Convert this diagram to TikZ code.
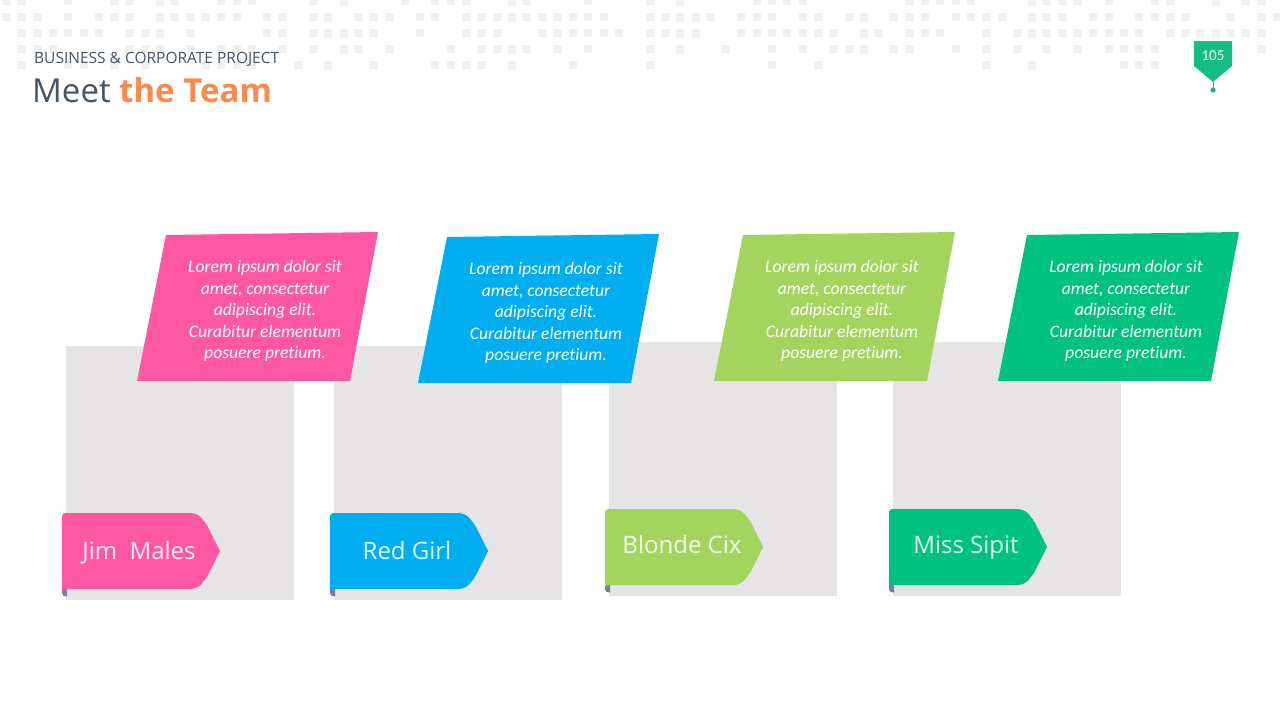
\documentclass[tikz,border=0pt]{standalone}
\usepackage{fontspec}
\setmainfont[Ligatures=NoCommon]{Carlito}
\newfontfamily\namefont{Open Sans}
\newfontfamily\headfont{Open Sans}
\definecolor{dotc}{HTML}{F0F0F0}
\definecolor{boxc}{HTML}{E6E4E5}
\definecolor{curlc}{HTML}{7F7E99}
\definecolor{pinkc}{HTML}{FE58A3}
\definecolor{bluec}{HTML}{00AEEF}
\definecolor{limec}{HTML}{A2D45E}
\definecolor{tealc}{HTML}{00C280}
\definecolor{badgec}{HTML}{14BE83}
\definecolor{headc}{HTML}{44546A}
\definecolor{orangec}{HTML}{FB8A4E}
\tikzset{
  graybox/.style={fill=boxc, draw=none, inner sep=0, anchor=north west, minimum width=228, minimum height=254},
  lorem/.style={text=white, align=center, inner sep=0, font=\fontsize{17.6}{21.5}\selectfont\itshape},
  tagname/.style={inner sep=0, anchor=base, font=\namefont\fontsize{24}{28}\selectfont},
}
\newcommand\teamtag[6]{% L, T, colour, node name, text, baseline offset
  \begin{scope}[shift={(#1,#2)}]
    \fill[curlc] (0,70) -- (0,80) .. controls (0,83) and (2,83.5) .. (5,83.5) -- (5,70) -- cycle;
    \fill[#3] (0,5) .. controls (0,1) and (1,0) .. (6,0) -- (128,0)
      .. controls (138,0) and (142,8) .. (146,14) -- (158,38) -- (146,62)
      .. controls (142,68) and (138,76) .. (128,76) -- (3,76)
      .. controls (1,76) and (0,77) .. (0,79) -- cycle;
    \node[tagname, text=white!88!#3] (#4) at (77,#6) {#5};
  \end{scope}}
\newcommand\loremcard[4]{% L, T, colour, node name
  \begin{scope}[shift={(#1,#2)}]
    \fill[#3] (29,3) -- (241,0) -- (213,149) -- (0,149) -- cycle;
    \node[lorem] (#4) at (128,79) {Lorem ipsum dolor sit\\amet, consectetur\\adipiscing elit.\\Curabitur elementum\\posuere pretium.};
  \end{scope}}
\begin{document}
\begin{tikzpicture}[x=1pt,y=-1pt]
\useasboundingbox[fill=white] (0,0) rectangle (1280,720);
% background dot pattern
\pgfmathsetseed{12}
\foreach \yy/\p in {1/0.55, 17/0.8, 33/0.8, 49/0.5, 65/0.3} {
  \foreach \c in {0,...,83} {
    \pgfmathsetmacro\rv{rnd}
    \ifdim\rv pt<\p pt \fill[dotc] ({3+\c*15.3},\yy-4) rectangle ++(8,8); \fi
  }
}
% header
\node[anchor=base west, inner sep=0, text=headc, font=\headfont\fontsize{15.5}{19}\selectfont] (sub) at (34,63) {BUSINESS \& CORPORATE PROJECT};
\node[anchor=base west, inner sep=0, text=headc, font=\headfont\fontsize{33}{38}\selectfont] (title) at (32,102) {Meet \textcolor{orangec}{\bfseries the Team}};
% page badge
\fill[badgec] (1194,41) -- (1232,41) -- (1232,66) -- (1213,82) -- (1194,66) -- cycle;
\coordinate (btip) at (1213,82);
\fill[badgec] (1213,90) circle (2.6);
\coordinate (bdot) at (1213,90);
\draw[badgec, line width=1] (btip) -- (bdot);
\node[text=white, inner sep=0, font=\fontsize{15}{18}\selectfont] (page) at (1213,56) {105};
% grey boxes
\node[graybox] (box1) at (66,346) {};
\node[graybox] (box2) at (334,346) {};
\node[graybox] (box3) at (609,342) {};
\node[graybox] (box4) at (893,342) {};
% description cards
\loremcard{137}{232}{pinkc}{card1}
\loremcard{418}{234}{bluec}{card2}
\loremcard{714}{232}{limec}{card3}
\loremcard{998}{232}{tealc}{card4}
% name tags
\teamtag{62}{513}{pinkc}{name1}{Jim\ \ Males}{46}
\teamtag{330}{513}{bluec}{name2}{Red Girl}{46}
\teamtag{605}{509}{limec}{name3}{Blonde Cix}{44}
\teamtag{889}{509}{tealc}{name4}{Miss Sipit}{44}
\end{tikzpicture}
\end{document}
